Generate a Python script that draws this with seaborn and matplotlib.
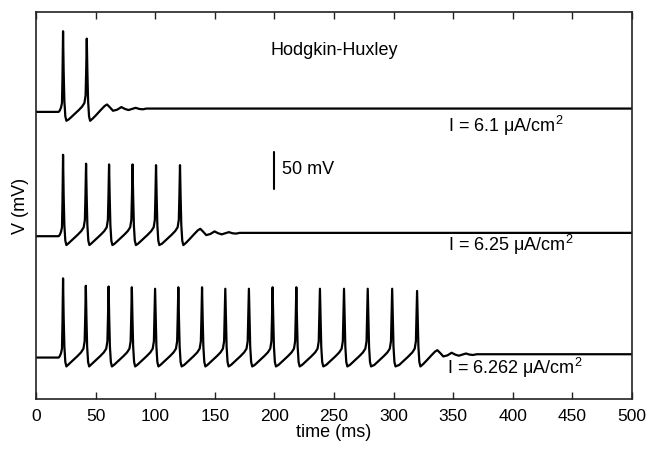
import numpy as np
import pandas as pd
import seaborn as sns
import matplotlib
matplotlib.use("Agg")
import matplotlib.pyplot as plt

# ---------------- data ----------------
current_labels = ["I = 6.1 μA/cm$^2$", "I = 6.25 μA/cm$^2$", "I = 6.262 μA/cm$^2$"]
baseline_offsets = [388, 220, 56]          # vertical offset of each trace (mV units)

spike_times_61 = [22.7, 42.6]
spike_peaks_61 = [109, 99]
spike_times_625 = [22.7, 42.0, 61.3, 81.0, 100.7, 120.8]
spike_peaks_625 = [110, 98, 97, 97, 96, 96]
spike_times_6262 = [22.7, 41.8, 60.9, 80.4, 99.9, 119.4, 139.3, 158.8,
                    178.6, 198.5, 218.4, 238.2, 258.4, 278.3, 298.8, 319.7]
spike_peaks_6262 = [107, 97, 96, 95, 93, 95, 95, 93, 93, 95, 95, 93, 93, 93, 93, 90]

# waveform pieces (time in ms, voltage in mV relative to rest)
onset_t = [0, 19.0, 20.0, 21.0, 21.8, 22.2]
onset_v = [0, 0, 2, 6, 12, 45]
down_dt = [0.5, 1.1, 1.9, 2.8]               # after a spike peak
down_v = [55, 15, -6, -12]
rise_dt = [-15, -11, -7, -4, -2.0, -1.0, -0.5]  # before the next spike peak
rise_v = [-10, -4, 2, 7, 12, 22, 55]
tail_dt = [5, 8, 12, 15, 17, 19.5, 22, 25.5, 29, 32, 35, 38, 41, 44, 47, 50]
tail_v = [-9, -4, 3, 8, 10, 6, 1.5, 3, 6.5, 4, 2.5, 4, 5.5, 4, 3.5, 4.5]
final_t = 500
final_v = 4.5

scale_bar_t = 200
scale_bar_v = [284, 334]


def build(times, peaks):
    t = list(onset_t)
    v = list(onset_v)
    for k, (tp, pk) in enumerate(zip(times, peaks)):
        t.append(tp); v.append(pk)
        t += [tp + d for d in down_dt]; v += down_v
        if k < len(times) - 1:
            nxt = times[k + 1]
            t += [nxt + d for d in rise_dt]; v += rise_v
        else:
            t += [tp + d for d in tail_dt]; v += tail_v
            t.append(final_t); v.append(final_v)
    return t, v


frames = []
for i, (times, peaks) in enumerate([(spike_times_61, spike_peaks_61),
                                    (spike_times_625, spike_peaks_625),
                                    (spike_times_6262, spike_peaks_6262)]):
    t, v = build(times, peaks)
    frames.append(pd.DataFrame({"t": t, "v": np.array(v) + baseline_offsets[i],
                                "trace": current_labels[i]}))
df = pd.concat(frames, ignore_index=True)

# ---------------- plot ----------------
sns.set_theme(style="white")
plt.rcParams["font.family"] = ["Liberation Sans", "DejaVu Sans"]
plt.rcParams["mathtext.fontset"] = "custom"
plt.rcParams["mathtext.rm"] = "Liberation Sans"
plt.rcParams["mathtext.it"] = "Liberation Sans:italic"
plt.rcParams["text.color"] = "black"
plt.rcParams["axes.labelcolor"] = "black"

fig = plt.figure(figsize=(6.5, 4.5), dpi=100)
ax = fig.add_axes([36 / 650, 1 - 399 / 450, 596 / 650, 387 / 450])

sns.lineplot(data=df, x="t", y="v", units="trace", estimator=None, sort=False,
             color="black", linewidth=1.6, ax=ax, legend=False)

ax.set_xlim(0, 500)
ax.set_ylim(0, 523)
ax.set_xticks(range(0, 501, 50))
ax.set_yticks([])
ax.tick_params(axis="x", direction="in", top=True, bottom=True, length=5,
               width=1, color="#222222", labelsize=12.5, pad=7, labelcolor="black")
for s in ax.spines.values():
    s.set_visible(True)
    s.set_color("#222222")
    s.set_linewidth(1.2)

ax.set_xlabel("time (ms)", fontsize=13, labelpad=0, color="black")
ax.set_ylabel("V (mV)", fontsize=13, labelpad=5, color="black")

ax.text(250, 471.6, "Hodgkin-Huxley", fontsize=13, ha="center", va="center")
label_x = [346, 346, 345]
label_y = [369.0, 208.5, 41.5]
for lx, ly, txt in zip(label_x, label_y, current_labels):
    ax.text(lx, ly, txt, fontsize=13, ha="left", va="center")

ax.plot([scale_bar_t, scale_bar_t], scale_bar_v, color="black", linewidth=1.5)
ax.text(206, 309.5, "50 mV", fontsize=13, ha="left", va="center")

fig.savefig("out.png", dpi=100)
